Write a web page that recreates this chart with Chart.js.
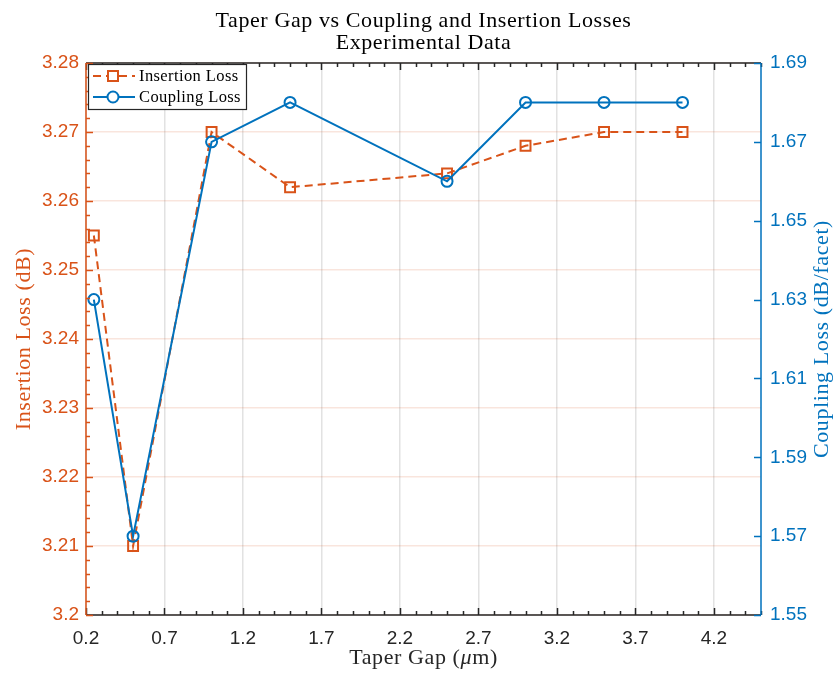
<!DOCTYPE html>
<html>
<head>
<meta charset="utf-8">
<script src="https://cdn.jsdelivr.net/npm/chart.js@4/dist/chart.umd.min.js"></script>
<style>
  html, body { margin: 0; padding: 0; background: #ffffff; }
  #wrap { width: 833px; height: 673px; }
</style>
</head>
<body>
<div id="wrap"><canvas id="c" width="833" height="673"></canvas></div>
<script>
// Measured taper gap (µm) and the two loss series
const gapUm = [0.25, 0.5, 1, 1.5, 2.5, 3, 3.5, 4];
const insertionLoss = [3.255, 3.21, 3.27, 3.262, 3.264, 3.268, 3.27, 3.27];
const couplingLoss = [1.63, 1.57, 1.67, 1.68, 1.66, 1.68, 1.68, 1.68];

// Axis tick values
const xTickValues = [0.2, 0.7, 1.2, 1.7, 2.2, 2.7, 3.2, 3.7, 4.2];
const leftTickValues = [3.2, 3.21, 3.22, 3.23, 3.24, 3.25, 3.26, 3.27, 3.28];
const rightTickValues = [1.55, 1.57, 1.59, 1.61, 1.63, 1.65, 1.67, 1.69];

const ORANGE = '#D95319';
const BLUE = '#0072BD';
const DARK = '#262626';
const SANS = '"Liberation Sans", Arial, Helvetica, sans-serif';
const SERIF = '"Liberation Serif", "Times New Roman", serif';

// Axes frame, inward ticks, titles and legend
const decorations = {
  id: 'decorations',
  afterDraw(chart) {
    const ctx = chart.ctx;
    const a = chart.chartArea;
    const xs = chart.scales.x, yl = chart.scales.y, yr = chart.scales.y1;
    ctx.save();

    // frame
    ctx.lineWidth = 1.5;
    ctx.strokeStyle = DARK;
    ctx.beginPath();
    ctx.moveTo(a.left, a.bottom); ctx.lineTo(a.right, a.bottom);
    ctx.moveTo(a.left, a.top); ctx.lineTo(a.right, a.top);
    ctx.stroke();

    // x ticks (bottom and top)
    const major = 7, minor = 4;
    ctx.beginPath();
    for (let k = 0; k <= 43; k++) {
      const v = 0.2 + k * 0.1;
      const px = Math.round(xs.getPixelForValue(v)) + 0.5;
      const len = (k % 5 === 0) ? major : minor;
      ctx.moveTo(px, a.bottom); ctx.lineTo(px, a.bottom - len);
      ctx.moveTo(px, a.top); ctx.lineTo(px, a.top + len);
    }
    ctx.stroke();

    // left axis
    ctx.strokeStyle = ORANGE;
    ctx.beginPath();
    ctx.moveTo(a.left, a.top); ctx.lineTo(a.left, a.bottom);
    for (let k = 0; k <= 40; k++) {
      const v = 3.2 + k * 0.002;
      const py = Math.round(yl.getPixelForValue(v)) + 0.5;
      const len = (k % 5 === 0) ? major : minor;
      ctx.moveTo(a.left, py); ctx.lineTo(a.left + len, py);
    }
    ctx.stroke();

    // right axis
    ctx.strokeStyle = BLUE;
    ctx.beginPath();
    ctx.moveTo(a.right, a.top); ctx.lineTo(a.right, a.bottom);
    rightTickValues.forEach(v => {
      const py = Math.round(yr.getPixelForValue(v)) + 0.5;
      ctx.moveTo(a.right, py); ctx.lineTo(a.right - major, py);
    });
    ctx.stroke();

    // chart title
    const cx = (a.left + a.right) / 2;
    ctx.fillStyle = '#000000';
    ctx.textAlign = 'center';
    ctx.textBaseline = 'alphabetic';
    ctx.font = '22px ' + SERIF;
    ctx.letterSpacing = '0.6px';
    ctx.fillText('Taper Gap vs Coupling and Insertion Losses', cx, 27);
    ctx.fillText('Experimental Data', cx, 49);

    // x axis title with italic mu
    const partA = 'Taper Gap (', partB = '\u03BC', partC = 'm)';
    ctx.textAlign = 'left';
    ctx.fillStyle = DARK;
    const fUp = '22px ' + SERIF, fIt = 'italic 22px ' + SERIF;
    ctx.font = fUp; const wA = ctx.measureText(partA).width, wC = ctx.measureText(partC).width;
    ctx.font = fIt; const wB = ctx.measureText(partB).width;
    let tx = cx - (wA + wB + wC) / 2;
    ctx.font = fUp; ctx.fillText(partA, tx, 664); tx += wA;
    ctx.font = fIt; ctx.fillText(partB, tx, 664); tx += wB;
    ctx.font = fUp; ctx.fillText(partC, tx, 664);

    // y axis titles, both reading bottom to top
    const cy = (a.top + a.bottom) / 2;
    ctx.textAlign = 'center';
    ctx.textBaseline = 'middle';
    ctx.font = fUp;
    ctx.save();
    ctx.translate(24, cy); ctx.rotate(-Math.PI / 2);
    ctx.fillStyle = ORANGE;
    ctx.fillText('Insertion Loss (dB)', 0, 0);
    ctx.restore();
    ctx.save();
    ctx.translate(822, cy); ctx.rotate(-Math.PI / 2);
    ctx.fillStyle = BLUE;
    ctx.fillText('Coupling Loss (dB/facet)', 0, 0);
    ctx.restore();

    // legend
    const lx = a.left + 2, ly = a.top + 1, lw = 158, lh = 45;
    ctx.fillStyle = '#ffffff';
    ctx.fillRect(lx, ly, lw, lh);
    ctx.strokeStyle = DARK;
    ctx.lineWidth = 1.2;
    ctx.strokeRect(lx + 0.5, ly + 0.5, lw, lh);
    const rows = [
      { label: 'Insertion Loss', color: ORANGE, dash: [8, 5], marker: 'rect', y: ly + 12 },
      { label: 'Coupling Loss', color: BLUE, dash: [], marker: 'circle', y: ly + 33 }
    ];
    rows.forEach(r => {
      ctx.strokeStyle = r.color;
      ctx.lineWidth = 2;
      ctx.setLineDash(r.dash);
      ctx.beginPath();
      ctx.moveTo(lx + 5, r.y); ctx.lineTo(lx + 47, r.y);
      ctx.stroke();
      ctx.setLineDash([]);
      const mx = lx + 25;
      ctx.fillStyle = '#ffffff';
      ctx.beginPath();
      if (r.marker === 'rect') ctx.rect(mx - 5, r.y - 5, 10, 10);
      else ctx.arc(mx, r.y, 5.5, 0, Math.PI * 2);
      ctx.fill();
      ctx.stroke();
      ctx.fillStyle = '#000000';
      ctx.textAlign = 'left';
      ctx.textBaseline = 'middle';
      ctx.font = '16.5px ' + SERIF;
      ctx.letterSpacing = '0.4px';
      ctx.fillText(r.label, lx + 51, r.y + 1);
    });
    ctx.restore();
  }
};

const insertionPoints = gapUm.map((g, i) => ({ x: g, y: insertionLoss[i] }));
const couplingPoints = gapUm.map((g, i) => ({ x: g, y: couplingLoss[i] }));

new Chart(document.getElementById('c'), {
  type: 'line',
  data: {
    datasets: [
      {
        label: 'Insertion Loss',
        data: insertionPoints,
        yAxisID: 'y',
        order: 2,
        borderColor: ORANGE,
        borderWidth: 2,
        borderDash: [8, 5],
        pointStyle: 'rect',
        pointRadius: 7,
        pointBorderWidth: 2,
        pointBorderColor: ORANGE,
        pointBackgroundColor: 'rgba(0,0,0,0)',
        tension: 0,
        fill: false
      },
      {
        label: 'Coupling Loss',
        data: couplingPoints,
        yAxisID: 'y1',
        order: 1,
        borderColor: BLUE,
        borderWidth: 2,
        pointStyle: 'circle',
        pointRadius: 5.5,
        pointBorderWidth: 2,
        pointBorderColor: BLUE,
        pointBackgroundColor: 'rgba(0,0,0,0)',
        tension: 0,
        fill: false
      }
    ]
  },
  options: {
    responsive: false,
    animation: false,
    events: [],
    layout: { padding: { top: 63, left: 0, right: 0, bottom: 0 } },
    plugins: {
      legend: { display: false },
      title: { display: false },
      tooltip: { enabled: false }
    },
    scales: {
      x: {
        type: 'linear',
        min: 0.2,
        max: 4.5,
        afterBuildTicks: s => { s.ticks = xTickValues.map(v => ({ value: v })); },
        afterFit: s => { s.height = 58; },
        border: { display: false },
        grid: { color: '#e2e2e2', lineWidth: 1.5, drawTicks: false },
        ticks: {
          color: DARK,
          font: { family: SANS, size: 19 },
          padding: 12,
          autoSkip: false,
          maxRotation: 0,
          callback: v => v.toFixed(1)
        }
      },
      y: {
        position: 'left',
        min: 3.2,
        max: 3.28,
        afterBuildTicks: s => { s.ticks = leftTickValues.map(v => ({ value: v })); },
        afterFit: s => { s.width = 86; },
        border: { display: false },
        grid: { color: 'rgba(217,83,25,0.15)', lineWidth: 1.5, drawTicks: false },
        ticks: {
          color: ORANGE,
          font: { family: SANS, size: 19 },
          padding: 7,
          autoSkip: false,
          callback: v => String(Number(v.toFixed(3)))
        }
      },
      y1: {
        position: 'right',
        min: 1.55,
        max: 1.69,
        afterBuildTicks: s => { s.ticks = rightTickValues.map(v => ({ value: v })); },
        afterFit: s => { s.width = 72; },
        border: { display: false },
        grid: { display: false, drawTicks: false },
        ticks: {
          color: BLUE,
          font: { family: SANS, size: 19 },
          padding: 9,
          autoSkip: false,
          callback: v => v.toFixed(2)
        }
      }
    }
  },
  plugins: [decorations]
});
</script>
</body>
</html>
